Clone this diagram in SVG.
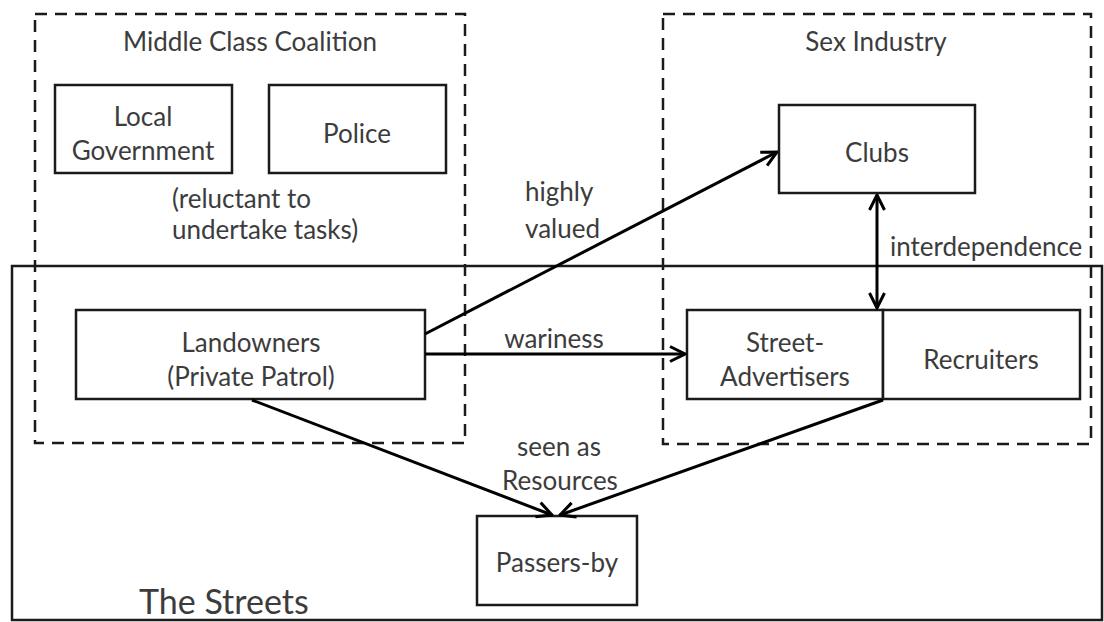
<svg xmlns="http://www.w3.org/2000/svg" width="1104" height="622" viewBox="0 0 1104 622">
<defs>
<style>
.t{font-family:Lato,"Liberation Sans",sans-serif;font-size:26px;fill:#3c3c3c;text-anchor:middle}
.l{text-anchor:start}
.box{fill:#fff;stroke:#1a1a1a;stroke-width:2.5}
.grp{fill:none;stroke:#1a1a1a;stroke-width:2.5;stroke-dasharray:12 8}
.edge{fill:none;stroke:#000;stroke-width:3}
</style>
<marker id="ah" viewBox="0 0 12 12" refX="11" refY="6" markerWidth="6" markerHeight="6" markerUnits="strokeWidth" orient="auto-start-reverse">
<path d="M1,1 L11,6 L1,11" fill="none" stroke="#000" stroke-width="2"/>
</marker>
</defs>
<rect width="1104" height="622" fill="#fff"/>
<g id="streets">
<rect x="12" y="266" width="1090" height="354" fill="none" stroke="#1a1a1a" stroke-width="2.5"/>
<text class="t l" x="139" y="614" style="font-size:34px">The Streets</text>
</g>
<g id="middle-class">
<rect class="grp" x="35" y="14" width="430" height="429"/>
<text class="t" x="250" y="51">Middle Class Coalition</text>
<text class="t l" x="172" y="208">(reluctant to</text>
<text class="t l" x="172" y="239">undertake tasks)</text>
</g>
<g id="sex-industry">
<rect class="grp" x="663" y="14" width="428" height="430"/>
<text class="t" x="876" y="51">Sex Industry</text>
</g>
<g id="local-government">
<rect class="box" x="55" y="85" width="177" height="88"/>
<text class="t" x="143" y="126">Local</text>
<text class="t" x="143" y="160">Government</text>
</g>
<g id="police">
<rect class="box" x="269" y="85" width="177" height="88"/>
<text class="t" x="357" y="143">Police</text>
</g>
<g id="clubs">
<rect class="box" x="779" y="105" width="196" height="88"/>
<text class="t" x="877" y="162">Clubs</text>
</g>
<g id="landowners">
<rect class="box" x="76" y="310" width="349" height="89"/>
<text class="t" x="251" y="352">Landowners</text>
<text class="t" x="251" y="386">(Private Patrol)</text>
</g>
<g id="street-advertisers">
<rect class="box" x="687" y="310" width="196" height="89"/>
<text class="t" x="785" y="352">Street-</text>
<text class="t" x="785" y="386">Advertisers</text>
</g>
<g id="recruiters">
<rect class="box" x="883" y="310" width="197" height="89"/>
<text class="t" x="981" y="369">Recruiters</text>
</g>
<g id="passers-by">
<rect class="box" x="477" y="516" width="160" height="89"/>
<text class="t" x="557" y="572">Passers-by</text>
</g>
<g id="connectors">
<line class="edge" x1="425" y1="334" x2="777" y2="152" marker-end="url(#ah)"/>
<line class="edge" x1="425" y1="354" x2="685" y2="354" marker-end="url(#ah)"/>
<line class="edge" x1="877" y1="195" x2="877" y2="308" marker-start="url(#ah)" marker-end="url(#ah)"/>
<line class="edge" x1="252" y1="400" x2="552" y2="515" marker-end="url(#ah)"/>
<line class="edge" x1="883" y1="400" x2="560" y2="515" marker-end="url(#ah)"/>
<text class="t l" x="525" y="201">highly</text>
<text class="t l" x="525" y="238">valued</text>
<text class="t" x="554" y="348">wariness</text>
<text class="t l" x="890" y="256">interdependence</text>
<text class="t" x="559" y="456">seen as</text>
<text class="t" x="560" y="490">Resources</text>
</g>
</svg>
